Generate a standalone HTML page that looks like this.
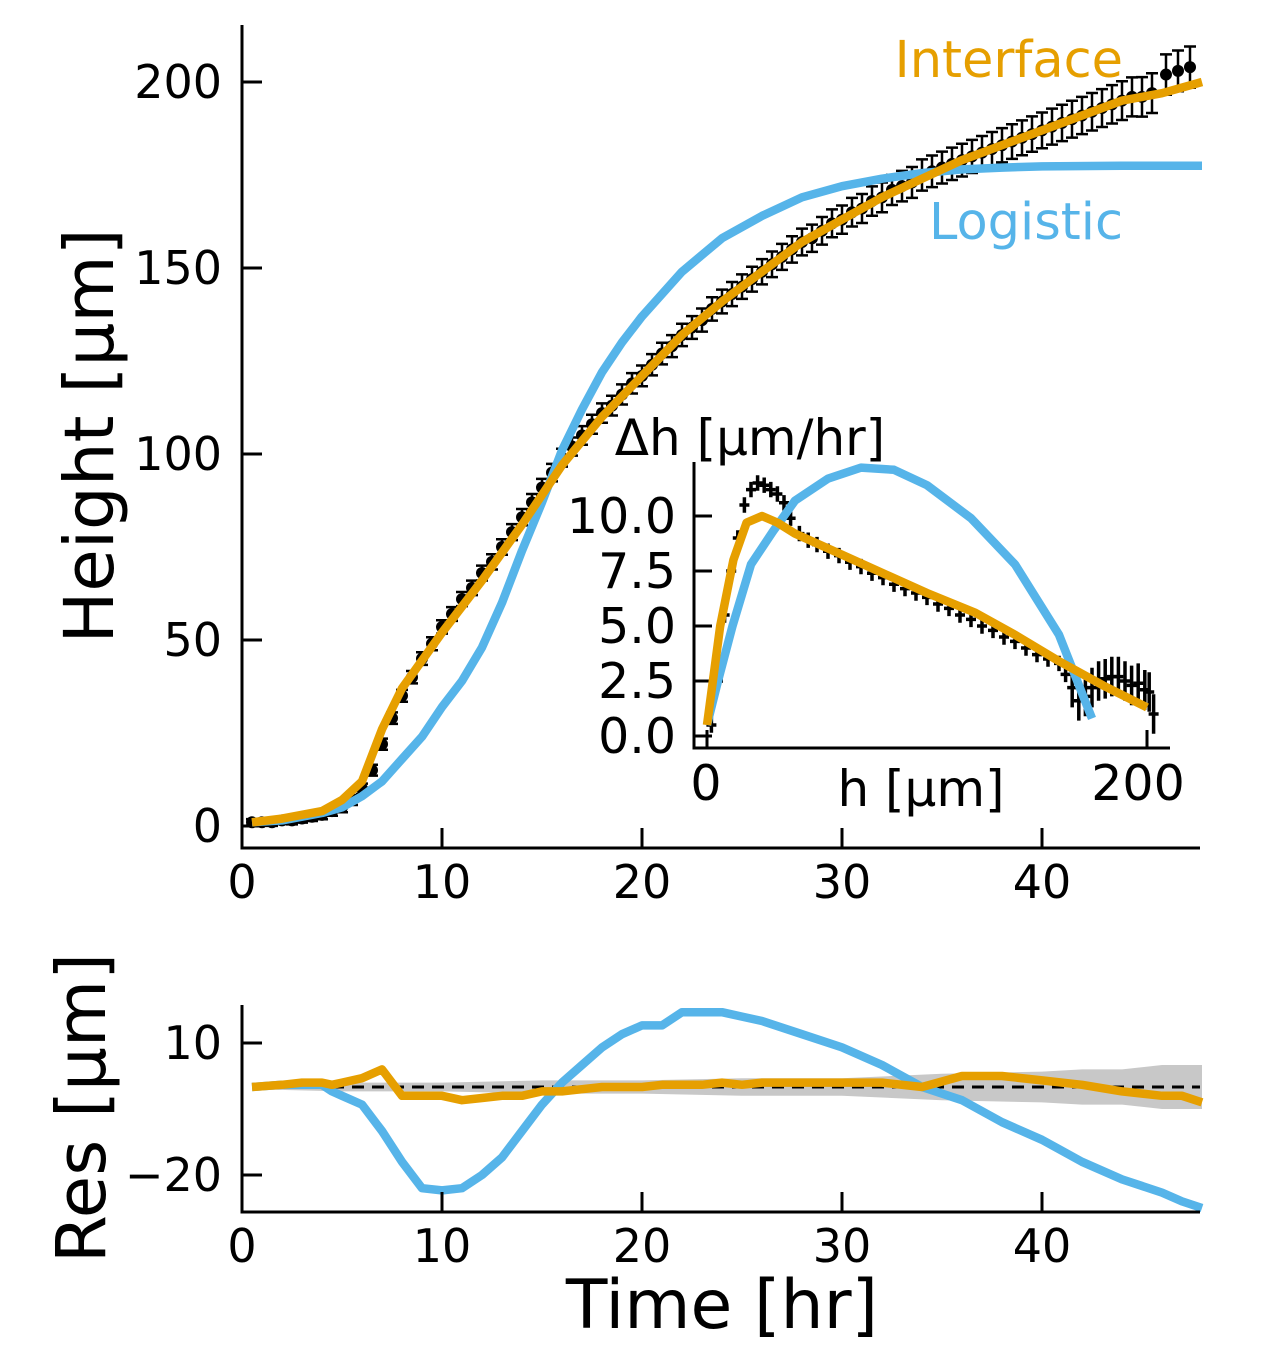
<!DOCTYPE html>
<html><head><meta charset="utf-8"><style>
html,body{margin:0;padding:0;background:#fff}
svg{display:block}
text{font-family:"DejaVu Sans","Liberation Sans",sans-serif;fill:#000}
</style></head><body>
<svg id="c" width="1270" height="1350" viewBox="0 0 1270 1350"></svg>
<script>
// ---------- main panel data ----------
const tObs=[0.5,1,1.5,2,2.5,3,3.5,4,4.5,5,5.5,6,6.5,7,7.5,8,8.5,9,9.5,10,10.5,11,11.5,12,12.5,13,13.5,14,14.5,15,15.5,16,16.5,17,17.5,18,18.5,19,19.5,20,20.5,21,21.5,22,22.5,23,23.5,24,24.5,25,25.5,26,26.5,27,27.5,28,28.5,29,29.5,30,30.5,31,31.5,32,32.5,33,33.5,34,34.5,35,35.5,36,36.5,37,37.5,38,38.5,39,39.5,40,40.5,41,41.5,42,42.5,43,43.5,44,44.5,45,45.5,46.2,46.8,47.4];
const hObs=[1,1,1,1.5,1.5,2,2.5,3,4,5,7,10,15,22,29,35,40,45,49,53.5,57,61,64,68,71,75,79,83,87,91,95,99,102,105,108,111,113,116,119,121,124,127,129,132,134,136,139,141,143,145,147,149,151,153,155,157,158,160,162,163,165,166,168,169,171,172,173,175,176,177,178,179,180,181,182,183,184,185,186,187,188,189,190,191,192,193,194,195,196,196,197,202,203,204];
const tFit=[0.5,2,3,4,5,6,7,8,10,12,14,16,18,20,22,24,26,28,30,32,34,36,38,40,42,44,46,48];
const interfaceH=[1,2,3,4,7,12,26,37,52,66,81,97,110,121,132,141,149,157,163,169,174,179,183,187,191,195,197,200];
const tLog=[0.5,2,3,4,5,6,7,8,9,10,11,12,13,14,15,16,17,18,19,20,22,24,26,28,30,32,34,36,38,40,44,48];
const logisticH=[1,1.5,2.5,3.5,5,8,12,18,24,32,39,48,60,74,87,101,112,122,130,137,149,158,164,169,172,174,175.5,176.5,177,177.3,177.5,177.5];
// ---------- residual data ----------
const tRes=[0.5,2,3,4,4.5,5,6,7,8,9,10,11,12,13,14,15,16,17,18,19,20,21,22,23,24,25,26,28,30,32,34,36,38,40,42,44,46,47,48];
const resLogistic=[0,0.5,0.5,0.5,-1,-2,-4,-10,-17,-23,-23.5,-23,-20,-16,-10,-4,1,5,9,12,14,14,17,17,17,16,15,12,9,5,0,-3,-8,-12,-17,-21,-24,-26,-27.5];
const resInterface=[0,0.5,1,1,0.5,1,2,4,-2,-2,-2,-3,-2.5,-2,-2,-1,-1,-0.5,0,0,0,0.5,0.5,0.5,1,0.5,1,1,1,1,0,2.5,2.5,1.5,0.5,-1,-2,-2,-3.5];
const bandT=[0.5,5,10,15,20,25,30,35,40,42,44,46,48];
const bandW=[0.5,1,1,1.5,1.5,2,2,3,3.5,4,4,5,5];
// ---------- inset data ----------
const hIn=[2,5,8,11,14,17,20,23,26,29,32,35,38,42,46,50,55,60,65,70,75,80,85,90,95,100,105,110,115,120,125,130,135,140,145,150,155,160,163,166,169,172,175,178,181,184,187,190,193,196,199,201,203];
const dhIn=[0.5,2.5,5.5,7.5,9,10.5,11.2,11.5,11.4,11.2,11,10.6,9.9,9.2,8.9,8.7,8.4,8.2,7.9,7.7,7.4,7.2,6.9,6.7,6.5,6.3,6.0,5.8,5.5,5.3,5.0,4.8,4.5,4.3,4.0,3.7,3.5,3.3,2.8,2.2,1.6,1.8,2.2,2.5,2.6,2.7,2.7,2.5,2.3,2.4,2.1,2.0,1.0];
const hInFit=[0,6,12,18,25,32,40,60,80,100,122,140,160,180,200];
const dhInterface=[0.5,5,8,9.7,10,9.7,9.2,8.3,7.4,6.5,5.6,4.6,3.4,2.3,1.3];
const hLog=[0,5,11.6,20,30,40,55,70,85,100,120,140,160,175];
const dhLogistic=[0.5,2.5,5,7.8,9.3,10.7,11.7,12.2,12.1,11.4,9.9,7.8,4.6,0.8];

const ORANGE="#E69F00",BLUE="#56B4E9",NS="http://www.w3.org/2000/svg",LW=8.5;
const svg=document.getElementById('c');
function el(tag,at,parent){const e=document.createElementNS(NS,tag);for(const k in at)e.setAttribute(k,at[k]);(parent||svg).appendChild(e);return e;}
const mx=t=>242+t*20, my=h=>826-h*3.72;
const rx=mx, ry=v=>1087-v*4.4;
const ix=h=>707+h*2.2, iy=v=>736-v*22;
function pathOf(xs,ys,fx,fy){return xs.map((x,i)=>(i?'L':'M')+fx(x).toFixed(1)+' '+fy(ys[i]).toFixed(1)).join(' ');}

// ===== main axes =====
const gMain=el('g',{});

let a=el('path',{d:'M242 25 V848 H1200',stroke:'#000','stroke-width':3,fill:'none'},gMain);

[0,10,20,30,40].forEach(t=>{
  const l=el('line',{x1:mx(t),x2:mx(t),y1:848,y2:828,stroke:'#000','stroke-width':3},gMain);
  
  const tx=el('text',{x:mx(t),y:898,'font-size':46,'text-anchor':'middle'},gMain);tx.textContent=t;
  
});
[0,50,100,150,200].forEach(h=>{
  const l=el('line',{x1:242,x2:262,y1:my(h),y2:my(h),stroke:'#000','stroke-width':3},gMain);
  
  const tx=el('text',{x:222,y:my(h)+16,'font-size':46,'text-anchor':'end'},gMain);tx.textContent=h;
  
});
let yt=el('text',{x:0,y:0,'font-size':69,'text-anchor':'middle',transform:'translate(113 436) rotate(-90)'},gMain);
yt.textContent='Height [μm]';
const gPts=el('g',{},gMain);

tObs.forEach((t,i)=>{
  const e=0.8+t*0.1,x=mx(t),y=my(hObs[i]);
  el('path',{d:`M${x} ${my(hObs[i]-e)} V${my(hObs[i]+e)} M${x-6} ${my(hObs[i]-e)} h12 M${x-6} ${my(hObs[i]+e)} h12`,stroke:'#000','stroke-width':2.5,fill:'none'},gPts);
  const c=el('circle',{cx:x,cy:y,r:6,fill:'#000'},gPts);
  
});
let lg=el('path',{d:pathOf(tLog,logisticH,mx,my),stroke:BLUE,'stroke-width':LW,fill:'none','stroke-linejoin':'round'},gMain);

let it=el('path',{d:pathOf(tFit,interfaceH,mx,my),stroke:ORANGE,'stroke-width':LW,fill:'none','stroke-linejoin':'round'},gMain);

let l1=el('text',{x:1123,y:77,'font-size':51,'text-anchor':'end',style:'fill:'+ORANGE},gMain);l1.textContent='Interface';

let l2=el('text',{x:1123,y:239,'font-size':51,'text-anchor':'end',style:'fill:'+BLUE},gMain);l2.textContent='Logistic';


// ===== inset =====
const gIn=el('g',{});

let ia=el('path',{d:'M694 462 V748 H1170',stroke:'#000','stroke-width':3,fill:'none'},gIn);

[0,2.5,5,7.5,10].forEach(v=>{
  el('line',{x1:694,x2:712,y1:iy(v),y2:iy(v),stroke:'#000','stroke-width':3},gIn);
  const tx=el('text',{x:676,y:iy(v)+17,'font-size':49,'text-anchor':'end'},gIn);tx.textContent=v.toFixed(1);
  
});
[0,200].forEach(h=>{
  el('line',{x1:ix(h),x2:ix(h),y1:748,y2:730,stroke:'#000','stroke-width':3},gIn);
  const tx=el('text',{x:h?1138:706,y:800,'font-size':49,'text-anchor':'middle'},gIn);tx.textContent=h;
  
});
let ixl=el('text',{x:921,y:806,'font-size':50,'text-anchor':'middle'},gIn);ixl.textContent='h [μm]';

let iyl=el('text',{x:750,y:455,'font-size':50,'text-anchor':'middle'},gIn);iyl.textContent='Δh [μm/hr]';

hIn.forEach((h,i)=>{
  const x=ix(h),v=dhIn[i],e=h>165?0.9:0.35;
  const p=el('path',{d:`M${x} ${iy(v-e)} V${iy(v+e)} M${x-5} ${iy(v)} h10`,stroke:'#000','stroke-width':3.5,fill:'none'},gIn);
  
});
let ib=el('path',{d:pathOf(hLog,dhLogistic,ix,iy),stroke:BLUE,'stroke-width':LW,fill:'none','stroke-linejoin':'round'},gIn);

let io=el('path',{d:pathOf(hInFit,dhInterface,ix,iy),stroke:ORANGE,'stroke-width':LW,fill:'none','stroke-linejoin':'round'},gIn);


// ===== residual panel =====
const gR=el('g',{});

const up=bandT.map((t,i)=>rx(t)+' '+ry(bandW[i])).join(' L');
const dn=bandT.slice().reverse().map((t,i)=>rx(t)+' '+ry(-bandW[bandW.length-1-i])).join(' L');
let band=el('path',{d:'M'+up+' L'+dn+' Z',fill:'#c8c8c8'},gR);

let zl=el('line',{x1:rx(0.5),x2:1200,y1:ry(0),y2:ry(0),stroke:'#000','stroke-width':3,'stroke-dasharray':'12 8'},gR);

let rb=el('path',{d:pathOf(tRes,resLogistic,rx,ry),stroke:BLUE,'stroke-width':LW,fill:'none','stroke-linejoin':'round'},gR);

let ro=el('path',{d:pathOf(tRes,resInterface,rx,ry),stroke:ORANGE,'stroke-width':LW,fill:'none','stroke-linejoin':'round'},gR);

let ra=el('path',{d:'M242 1005 V1212 H1200',stroke:'#000','stroke-width':3,fill:'none'},gR);

[0,10,20,30,40].forEach(t=>{
  el('line',{x1:rx(t),x2:rx(t),y1:1212,y2:1192,stroke:'#000','stroke-width':3},gR);
  const tx=el('text',{x:rx(t),y:1262,'font-size':46,'text-anchor':'middle'},gR);tx.textContent=t;
  
});
[10,-20].forEach(v=>{
  el('line',{x1:242,x2:262,y1:ry(v),y2:ry(v),stroke:'#000','stroke-width':3},gR);
  const tx=el('text',{x:222,y:ry(v)+16,'font-size':46,'text-anchor':'end'},gR);tx.textContent=v<0?'−'+(-v):v;
  
});
let ry1=el('text',{x:0,y:0,'font-size':69,'text-anchor':'middle',transform:'translate(105 1108) rotate(-90)'},gR);
ry1.textContent='Res [μm]';
let xt=el('text',{x:722,y:1328,'font-size':68,'text-anchor':'middle'},gR);
xt.textContent='Time [hr]';
</script>
</body></html>
